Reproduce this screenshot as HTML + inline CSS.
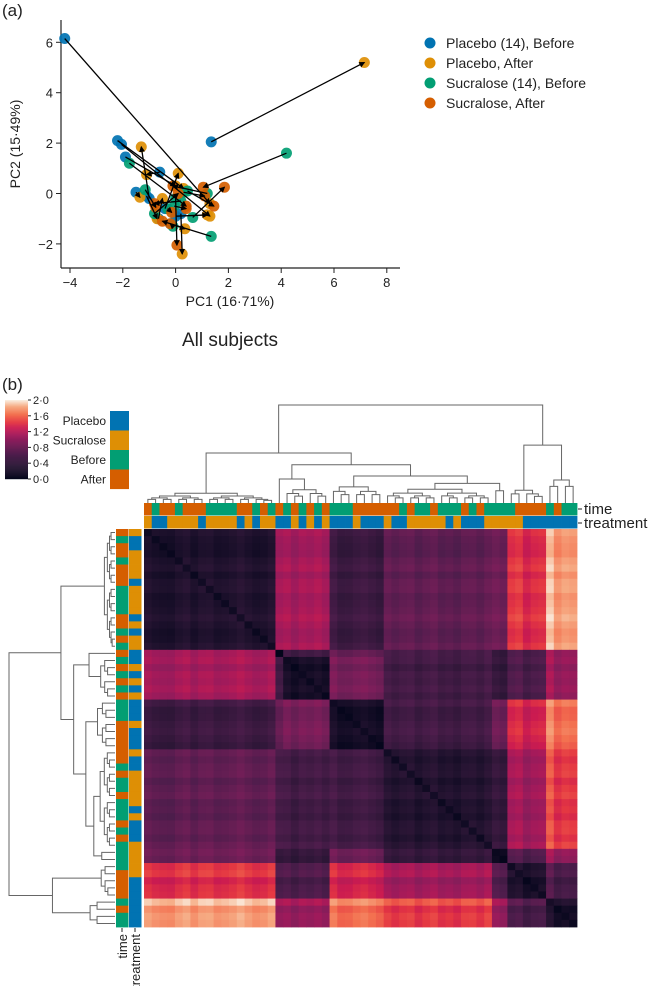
<!DOCTYPE html>
<html><head><meta charset="utf-8"><style>
body{margin:0;background:#fff;}
svg text{font-family:"Liberation Sans",sans-serif;fill:#222;}
</style></head><body>
<svg id="fig" width="654" height="986" viewBox="0 0 654 986" xmlns="http://www.w3.org/2000/svg">
<defs><marker id="arr" markerWidth="6" markerHeight="6" refX="5" refY="3" orient="auto" markerUnits="userSpaceOnUse"><path d="M0,0 L6,3 L0,6 z" fill="#000"/></marker></defs>
<text x="2" y="16" font-size="17">(a)</text>
<g id="scatter"></g>
<text x="2" y="390" font-size="17">(b)</text>
<g id="heat"></g>
</svg>
<script>
const NS="http://www.w3.org/2000/svg";
function mk(tag,attrs,parent,text){const e=document.createElementNS(NS,tag);for(const k in attrs)e.setAttribute(k,attrs[k]);if(text!==undefined)e.textContent=text;parent.appendChild(e);return e;}

// ---------- PCA scatter data ----------
const placeboBefore=[[-4.2,6.15],[1.35,2.05],[-2.2,2.1],[-2.05,1.95],[-1.9,1.45],[-0.6,0.85],[-1.5,0.05],[-1.1,-0.1],[-0.65,-1.0],[0.0,-0.9],[-0.4,-0.6],[0.2,-0.8],[-0.2,-1.2],[-1.0,-0.2]];
const placeboAfter=[[1.3,-0.4],[7.15,5.2],[0.3,0.2],[1.3,-0.9],[0.0,0.3],[-1.1,0.75],[-1.35,-0.15],[-0.7,-1.0],[-0.5,-0.2],[1.2,-0.85],[0.1,0.8],[0.25,-2.4],[0.35,-1.4],[-1.3,1.85]];
const sucraloseBefore=[[4.2,1.6],[1.35,-1.7],[-1.75,1.2],[0.65,-0.95],[-1.15,0.15],[0.45,0.1],[0.0,-0.2],[1.2,0.0],[-0.3,-0.6],[-0.1,-1.3],[0.2,-0.3],[-0.8,-0.8],[0.3,0.05],[-0.05,-0.5]];
const sucraloseAfter=[[1.05,0.25],[-0.5,-1.1],[0.4,-0.5],[1.85,0.25],[-0.75,-0.55],[1.45,-0.5],[0.05,-2.05],[-0.1,0.3],[-0.15,-0.75],[-0.2,-1.2],[-0.8,-0.4],[0.1,0.0],[1.1,-0.1],[0.4,-0.6]];
const xTicks=[-4,-2,0,2,4,6,8];
const yTicks=[-2,0,2,4,6];
const legendLabels=["Placebo (14), Before","Placebo, After","Sucralose (14), Before","Sucralose, After"];
const groupColors=["#0173b2","#de8f05","#029e73","#d55e00"];

const sx=v=>70+(v+4)*26.4, sy=v=>42.3+(6-v)*25.2;
const sc=document.getElementById('scatter');
const ax=mk('g',{},sc);


mk('line',{x1:61,y1:20,x2:61,y2:268,stroke:'#222','stroke-width':1.2},ax);
mk('line',{x1:61,y1:268,x2:400,y2:268,stroke:'#222','stroke-width':1.2},ax);
xTicks.forEach(t=>{
  mk('line',{x1:sx(t),y1:268,x2:sx(t),y2:273,stroke:'#222'},ax);
  const e=mk('text',{x:sx(t),y:287,'font-size':13,'text-anchor':'middle'},ax,t<0?'\u2212'+(-t):String(t));
  
  
});
yTicks.forEach(t=>{
  mk('line',{x1:56,y1:sy(t),x2:61,y2:sy(t),stroke:'#222'},ax);
  const e=mk('text',{x:53,y:sy(t)+5,'font-size':13,'text-anchor':'end'},ax,t<0?'\u2212'+(-t):String(t));
  
  
});
let e=mk('text',{x:230,y:306,'font-size':14,'text-anchor':'middle'},sc,'PC1 (16\u00b771%)');


e=mk('text',{x:0,y:0,'font-size':14,'text-anchor':'middle',transform:'translate(20,144) rotate(-90)'},sc,'PC2 (15\u00b749%)');


e=mk('text',{x:230,y:346,'font-size':19,'text-anchor':'middle'},sc,'All subjects');



const pts=mk('g',{},sc);


[placeboBefore,placeboAfter,sucraloseBefore,sucraloseAfter].forEach((arr,g)=>{
  arr.forEach(p=>{
    const c=mk('circle',{cx:sx(p[0]),cy:sy(p[1]),r:5.5,fill:groupColors[g],'fill-opacity':0.92},pts);
    
    
  });
});
const lines=mk('g',{},sc);


[[placeboBefore,placeboAfter],[sucraloseBefore,sucraloseAfter]].forEach(([b,a])=>{
  b.forEach((p,i)=>{
    const l=mk('line',{x1:sx(p[0]),y1:sy(p[1]),x2:sx(a[i][0]),y2:sy(a[i][1]),stroke:'#000','stroke-width':1.3,'marker-end':'url(#arr)'},lines);
    
    
  });
});
const lg=mk('g',{},sc);


legendLabels.forEach((t,i)=>{
  const y=43+i*20;
  const g=mk('g',{},lg);
  
  
  mk('circle',{cx:430,cy:y,r:5.5,fill:groupColors[i]},g);
  mk('text',{x:446,y:y+5,'font-size':14},g,t);
});

// ---------- Clustermap data ----------
const clusterSizes=[17,1,6,7,14,2,5,4];
const clusterDist=[
 [0.22,1.10,1.10,0.45,0.70,0.80,1.35,1.75],
 [1.10,0.00,0.50,0.75,0.55,0.40,0.55,1.00],
 [1.10,0.50,0.15,0.85,0.50,0.40,0.55,1.00],
 [0.45,0.75,0.85,0.15,0.50,0.80,1.30,1.60],
 [0.70,0.55,0.50,0.50,0.25,0.40,1.05,1.40],
 [0.80,0.40,0.40,0.80,0.40,0.10,0.60,1.00],
 [1.35,0.55,0.55,1.30,1.05,0.60,0.15,0.50],
 [1.75,1.00,1.00,1.60,1.40,1.00,0.50,0.12]];
const sampleOffset=[0.03,-0.02,-0.04,-0.05,0.02,0.06,-0.03,0.04,0.05,-0.02,0.0,0.03,0.08,0.02,-0.03,-0.01,0.05,
 0.0,
 0.04,-0.05,0.03,0.0,0.05,-0.02,
 0.06,-0.04,-0.03,0.02,0.05,0.0,-0.05,
 0.04,-0.02,0.03,0.05,-0.04,0.02,0.06,-0.03,0.0,-0.05,0.03,0.04,-0.02,0.06,
 0.02,-0.03,
 0.06,0.1,-0.04,0.03,0.05,
 0.15,-0.02,0.04,0.02];
const timeSeq="OGOOGOOOGGGGOOGOGOGOGOGOGGGOOOOOOGOGGOGGGOGOGGGGOOOOGOGG";
const treatSeq="YBBYYYYBYYYYBYBYYBBYBYBYBBBYBBBYBBYYYYYBYBBBYYYYYBBBBBBB";
const treeHeights={root:2.0,left:1.02,rest:0.78,sB:0.49,cde:0.55,de:0.40,fg:1.18};
const cbTicks=[0,0.4,0.8,1.2,1.6,2.0];
const catLabels=["Placebo","Sucralose","Before","After"];
const catColors=["#0173b2","#de8f05","#029e73","#d55e00"];

const stops=[[0,[3,5,26]],[0.15,[38,20,50]],[0.3,[76,29,75]],[0.45,[124,30,90]],[0.55,[161,26,91]],[0.65,[203,27,80]],[0.72,[228,55,66]],[0.82,[243,113,80]],[0.92,[246,170,130]],[1,[250,235,221]]];
function cmap(v){let t=Math.max(0,Math.min(1,v/2));for(let i=1;i<stops.length;i++){if(t<=stops[i][0]){const[a,ca]=stops[i-1],[b,cb]=stops[i];const f=(t-a)/(b-a);return 'rgb('+ca.map((c,k)=>Math.round(c+(cb[k]-c)*f)).join(',')+')';}}return 'rgb(250,235,221)';}

const hm=document.getElementById('heat');
const N=timeSeq.length, X0=144, X1=577, Y0=529, Y1=927, cw=(X1-X0)/N, ch=(Y1-Y0)/N;
const clusterOf=[];clusterSizes.forEach((s,c)=>{for(let k=0;k<s;k++)clusterOf.push(c);});
const cells=mk('g',{},hm);


for(let i=0;i<N;i++)for(let j=0;j<N;j++){
  const base=clusterDist[clusterOf[i]][clusterOf[j]]+sampleOffset[i]+sampleOffset[j];
  const v=i===j?base*0.4:base;
  const r=mk('rect',{x:X0+j*cw,y:Y0+i*ch,width:cw+0.4,height:ch+0.4,fill:cmap(v)},cells);
  
  
}
const col={O:'#d55e00',G:'#029e73',Y:'#de8f05',B:'#0173b2'};
const bars=mk('g',{},hm);


for(let i=0;i<N;i++){
  mk('rect',{x:X0+i*cw,y:503,width:cw+0.4,height:12.5,fill:col[timeSeq[i]]},bars);
  mk('rect',{x:X0+i*cw,y:516,width:cw+0.4,height:12.5,fill:col[treatSeq[i]]},bars);
  mk('rect',{x:116,y:Y0+i*ch,width:12.5,height:ch+0.4,fill:col[timeSeq[i]]},bars);
  mk('rect',{x:129,y:Y0+i*ch,width:12.5,height:ch+0.4,fill:col[treatSeq[i]]},bars);
}
[['time',509],['treatment',523]].forEach(([t,y])=>{
  mk('line',{x1:578,y1:y,x2:582,y2:y,stroke:'#222'},hm);
  const e=mk('text',{x:584,y:y+5,'font-size':15},hm,t);
  
  
});
[['time',122],['treatment',135]].forEach(([t,x])=>{
  mk('line',{x1:x,y1:928,x2:x,y2:932,stroke:'#222'},hm);
  const e=mk('text',{x:0,y:0,'font-size':13,'text-anchor':'end',transform:'translate('+(x+5)+',934) rotate(-90)'},hm,t);
  
  
});

// dendrograms
function sub(lo,hi,h){if(hi-lo===1)return{leaf:lo};const m=Math.floor((lo+hi)/2);return{h:h,l:sub(lo,m,h*0.72),r:sub(m,hi,h*0.72)};}
const H=treeHeights;
const tree={h:H.root,l:{h:H.left,l:sub(0,17,0.2),r:{h:H.rest,l:{h:H.sB,l:{leaf:17},r:sub(18,24,0.27)},r:{h:H.cde,l:sub(24,31,0.33),r:{h:H.de,l:sub(31,45,0.28),r:sub(45,47,0.25)}}}},r:{h:H.fg,l:sub(47,52,0.26),r:sub(52,56,0.47)}};
function draw(node,g,pos,hgt,top){
  if(node.leaf!==undefined)return{p:pos(node.leaf),h:0};
  const a=draw(node.l,g,pos,hgt,top),b=draw(node.r,g,pos,hgt,top);
  const H=hgt(node.h);
  let d;
  if(top)d=`M${a.p},${hgt(a.h)}V${H}H${b.p}V${hgt(b.h)}`;
  else d=`M${hgt(a.h)},${a.p}H${H}V${b.p}H${hgt(b.h)}`;
  mk('path',{d:d,fill:'none',stroke:'#666','stroke-width':1},g);
  return{p:(a.p+b.p)/2,h:node.h};
}
const dt=mk('g',{},hm);


draw(tree,dt,i=>X0+(i+0.5)*cw,h=>503-h*49,true);
const dl=mk('g',{},hm);


draw(tree,dl,i=>Y0+(i+0.5)*ch,h=>115-h*53,false);

// colorbar
const cb=mk('g',{},hm);


const cbY0=400,cbY1=479;
for(let k=0;k<80;k++){const v=2-2*k/79;mk('rect',{x:5,y:cbY0+k*(cbY1-cbY0)/80,width:23,height:1.2,fill:cmap(v)},cb);}
cbTicks.forEach(t=>{
  const y=cbY1-(t/2)*(cbY1-cbY0);
  mk('line',{x1:28,y1:y,x2:31,y2:y,stroke:'#222'},cb);
  const e=mk('text',{x:33,y:y+4,'font-size':11},cb,t.toFixed(1).replace('.','\u00b7'));
  
  
});
const cl=mk('g',{},hm);


catLabels.forEach((t,i)=>{
  const y=411+i*19.5;
  const g=mk('g',{},cl);
  
  
  mk('rect',{x:110,y:y,width:19,height:19.6,fill:catColors[i]},g);
  mk('text',{x:106,y:y+14,'font-size':12,'text-anchor':'end'},g,t);
});
</script>
</body></html>
